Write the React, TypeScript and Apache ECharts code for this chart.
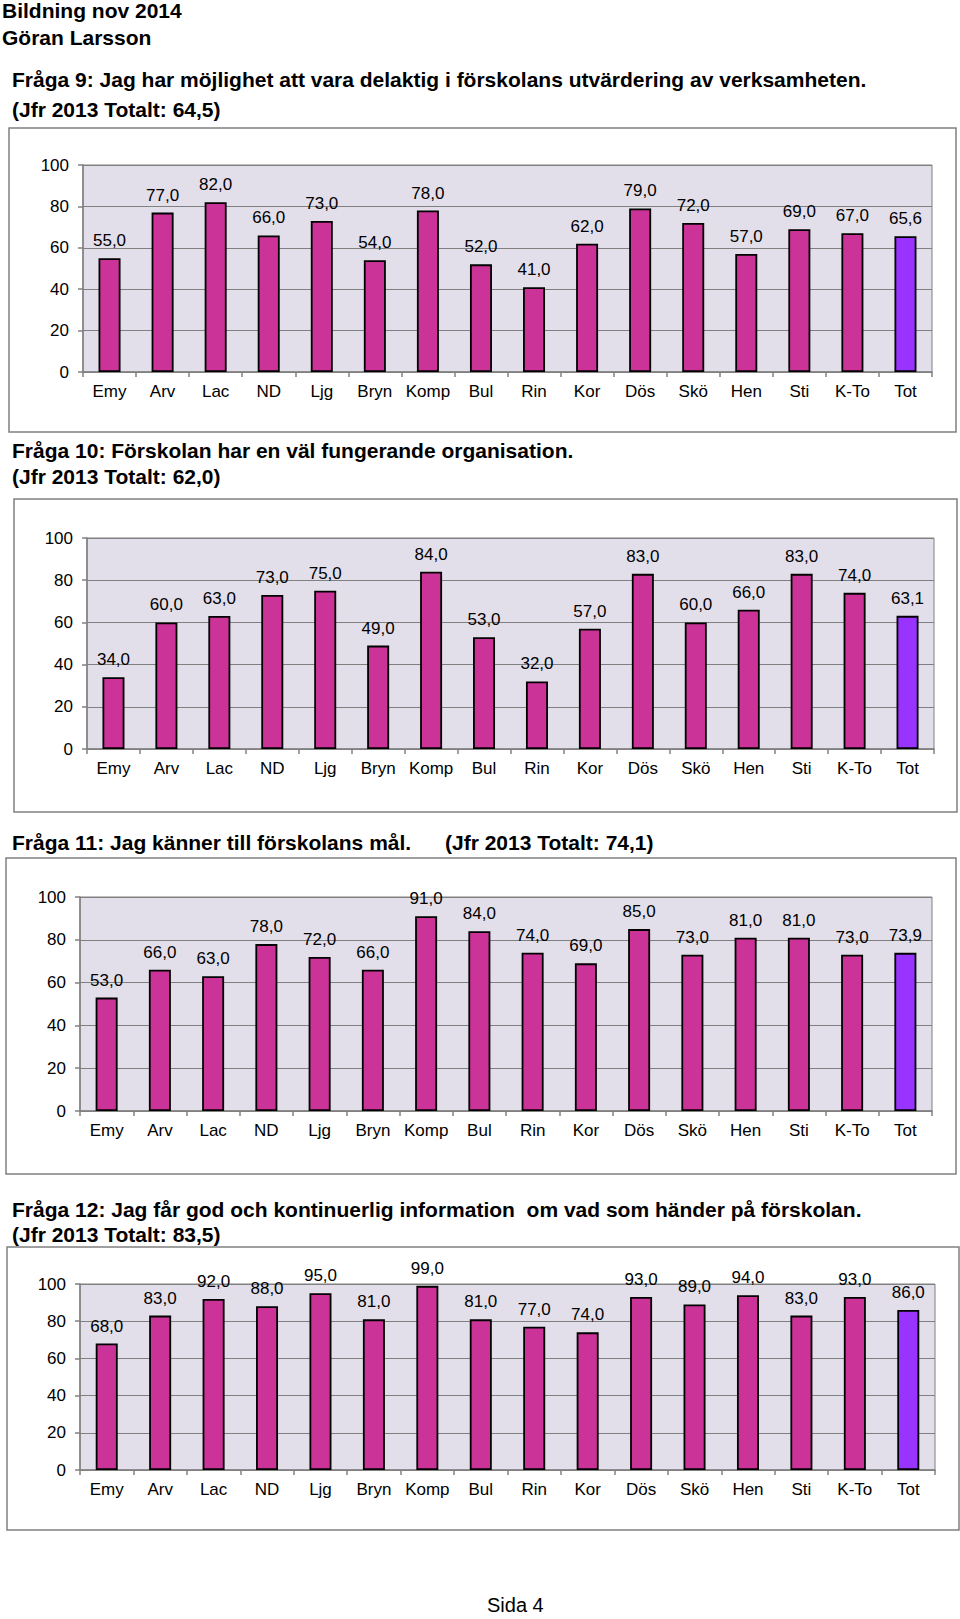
import React, { useEffect, useRef } from "react";
import * as echarts from "echarts";

const categories = ["Emy", "Arv", "Lac", "ND", "Ljg", "Bryn", "Komp", "Bul", "Rin", "Kor", "Dös", "Skö", "Hen", "Sti", "K-To", "Tot"];

const q9Values = [55, 77, 82, 66, 73, 54, 78, 52, 41, 62, 79, 72, 57, 69, 67, 65.6];
const q10Values = [34, 60, 63, 73, 75, 49, 84, 53, 32, 57, 83, 60, 66, 83, 74, 63.1];
const q11Values = [53, 66, 63, 78, 72, 66, 91, 84, 74, 69, 85, 73, 81, 81, 73, 73.9];
const q12Values = [68, 83, 92, 88, 95, 81, 99, 81, 77, 74, 93, 89, 94, 83, 93, 86];

const yTicks = [0, 20, 40, 60, 80, 100];

const headerLines = ["Bildning nov 2014", "Göran Larsson"];
const q9Title = ["Fråga 9: Jag har möjlighet att vara delaktig i förskolans utvärdering av verksamheten.", "(Jfr 2013 Totalt: 64,5)"];
const q10Title = ["Fråga 10: Förskolan har en väl fungerande organisation.", "(Jfr 2013 Totalt: 62,0)"];
const q11Title = ["Fråga 11: Jag känner till förskolans mål.", "(Jfr 2013 Totalt: 74,1)"];
const q12Title = ["Fråga 12: Jag får god och kontinuerlig information  om vad som händer på förskolan.", "(Jfr 2013 Totalt: 83,5)"];
const footer = "Sida 4";

const FONT = "'Liberation Sans', Arial, sans-serif";
const BAR = "#CC3399";
const TOT = "#9933FF";
const PLOT_BG = "#E3DFEA";
const GRAY = "#808080";
const AX_FS = 17;

const grids = [
  { left: 83, top: 165, width: 849, height: 207 },
  { left: 87, top: 538, width: 847, height: 211 },
  { left: 80, top: 897, width: 852, height: 214 },
  { left: 80, top: 1284, width: 855, height: 186 },
];
const boxes = [
  { x: 9, y: 128, w: 947, h: 304 },
  { x: 14, y: 499, w: 943, h: 313 },
  { x: 6, y: 858, w: 950, h: 316 },
  { x: 7, y: 1247, w: 952, h: 283 },
];

function fmt(v: number) {
  return v.toFixed(1).replace(".", ",");
}

export default function App() {
  const ref = useRef<HTMLDivElement>(null);
  useEffect(() => {
    if (!ref.current) return;
    const chart = echarts.init(ref.current, null, { renderer: "svg" });
    const allValues = [q9Values, q10Values, q11Values, q12Values];

    const text = (s: string, x: number, y: number, bold = true, size = 21) => ({
      type: "text",
      x,
      y,
      z: 10,
      style: {
        text: s,
        fill: "#000",
        font: `${bold ? "bold " : ""}${size}px ${FONT}`,
        textAlign: "left",
        textVerticalAlign: "middle",
        verticalAlign: "middle",
      },
    });

    const graphic: any[] = [
      ...boxes.map((b) => ({
        type: "rect",
        shape: { x: b.x, y: b.y, width: b.w, height: b.h },
        z: -10,
        style: { fill: "#fff", stroke: GRAY, lineWidth: 1.5 },
      })),
      text(headerLines[0], 2, 10.5),
      text(headerLines[1], 2, 37.5),
      text(q9Title[0], 12, 79.5),
      text(q9Title[1], 12, 109),
      text(q10Title[0], 12, 450),
      text(q10Title[1], 12, 476),
      text(q11Title[0], 12, 842.5),
      text(q11Title[1], 445, 842.5),
      text(q12Title[0], 12, 1209),
      text(q12Title[1], 12, 1234),
      text(footer, 487, 1605, false, 20),
    ];

    const option: any = {
      animation: false,
      backgroundColor: "#fff",
      textStyle: { fontFamily: FONT },
      graphic,
      grid: grids.map((g) => ({
        ...g,
        show: true,
        backgroundColor: PLOT_BG,
        borderColor: GRAY,
        borderWidth: 1,
        containLabel: false,
      })),
      xAxis: grids.map((_, i) => ({
        type: "category",
        gridIndex: i,
        data: categories,
        axisLine: { show: true, lineStyle: { color: GRAY, width: 1.5 } },
        axisTick: { show: true, length: 5, lineStyle: { color: GRAY, width: 1.5 } },
        axisLabel: { interval: 0, margin: 11, fontSize: AX_FS, color: "#000", fontFamily: FONT },
      })),
      yAxis: grids.map((_, i) => ({
        type: "value",
        gridIndex: i,
        min: yTicks[0],
        max: yTicks[yTicks.length - 1],
        interval: 20,
        axisLine: { show: true, lineStyle: { color: GRAY, width: 1.5 } },
        axisTick: { show: true, length: 5, lineStyle: { color: GRAY, width: 1.5 } },
        axisLabel: { margin: 14, fontSize: AX_FS, color: "#000", fontFamily: FONT },
        splitLine: { show: true, lineStyle: { color: GRAY, width: 1 } },
      })),
      series: allValues.map((vals, i) => ({
        type: "bar",
        xAxisIndex: i,
        yAxisIndex: i,
        barWidth: 22,
        data: vals,
        itemStyle: {
          color: (p: any) => (p.dataIndex === categories.length - 1 ? TOT : BAR),
          borderColor: "#000",
          borderWidth: 1.8,
        },
        label: {
          show: true,
          position: "top",
          distance: 9,
          fontSize: AX_FS,
          color: "#000",
          fontFamily: FONT,
          formatter: (p: any) => fmt(p.value),
        },
      })),
    };
    chart.setOption(option);
    return () => chart.dispose();
  }, []);
  return (
    <div
      ref={ref}
      style={{ position: "absolute", left: 0, top: 0, width: 960, height: 1619 }}
    />
  );
}
